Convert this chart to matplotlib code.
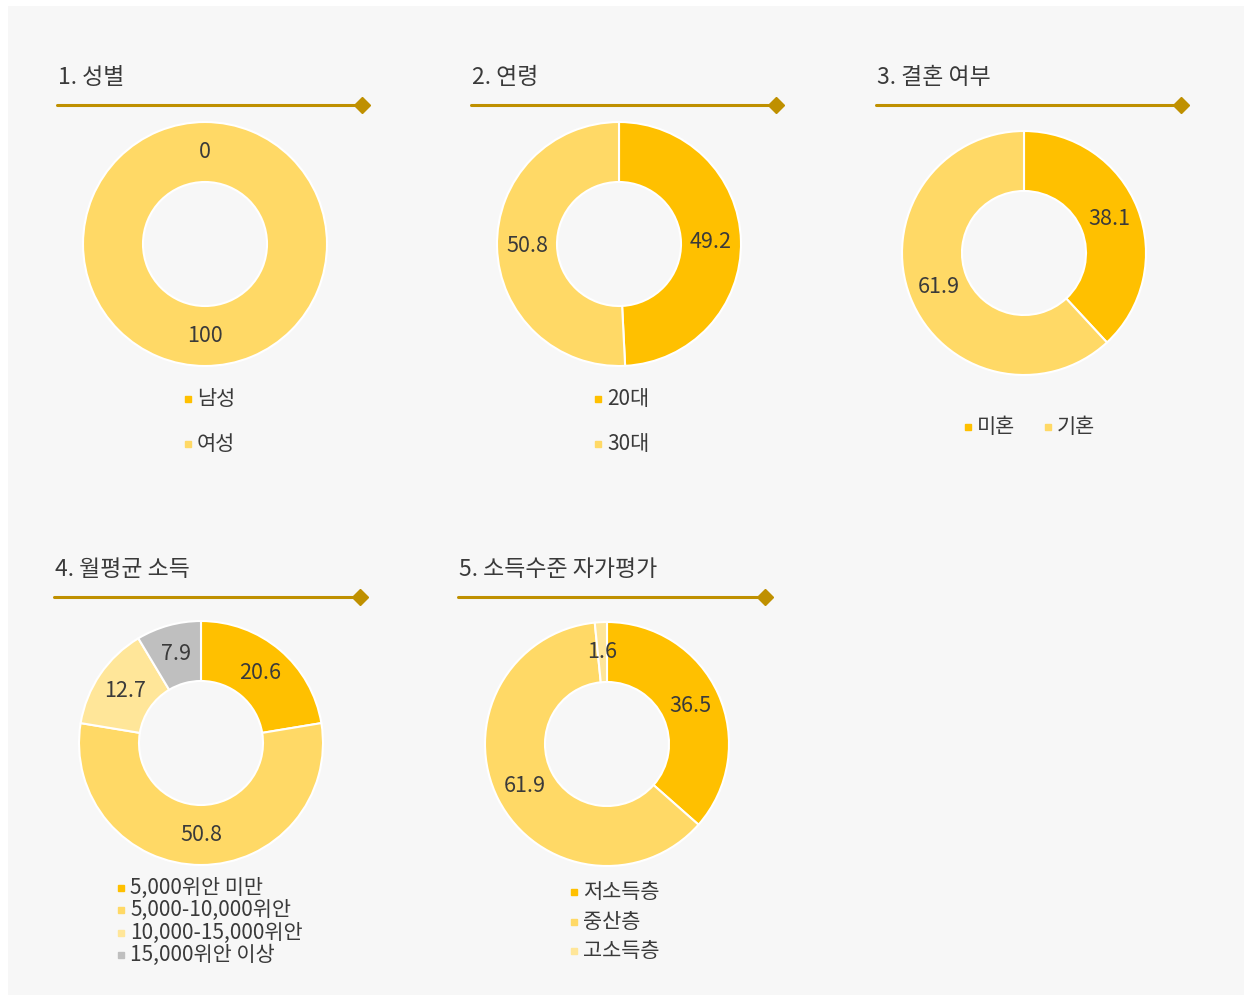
import matplotlib.pyplot as plt
from matplotlib.patches import Rectangle
import numpy as np

plt.rcParams['font.family'] = ['Noto Sans CJK KR', 'DejaVu Sans']

W, H = 1248, 1001

# --- data ---
titles = ['1. 성별', '2. 연령', '3. 결혼 여부', '4. 월평균 소득', '5. 소득수준 자가평가']

sex_labels = ['남성', '여성']
sex_values = [0, 100]

age_labels = ['20대', '30대']
age_values = [49.2, 50.8]

marry_labels = ['미혼', '기혼']
marry_values = [38.1, 61.9]

income_labels = ['5,000위안 미만', '5,000-10,000위안', '10,000-15,000위안', '15,000위안 이상']
income_values = [20.6, 50.8, 12.7, 7.9]

level_labels = ['저소득층', '중산층', '고소득층']
level_values = [36.5, 61.9, 1.6]

gold = '#FFC000'
gold2 = '#FFD966'
gold3 = '#FFE699'
grey = '#BFBFBF'
line_col = '#BF9000'
txt_col = '#3A3A3A'

sex_colors = [gold, gold2]
age_colors = [gold, gold2]
marry_colors = [gold, gold2]
income_colors = [gold, gold2, gold3, grey]
level_colors = [gold, gold2, gold3]

fig = plt.figure(figsize=(W / 100, H / 100), dpi=100)
fig.patch.set_facecolor('white')
ax = fig.add_axes([0, 0, 1, 1])
ax.set_xlim(0, W)
ax.set_ylim(0, H)
ax.set_aspect('equal')
ax.axis('off')

ax.add_patch(Rectangle((8, 6), W - 12, H - 12, facecolor='#F7F7F7', edgecolor='none', zorder=0))


def Y(y):
    return H - y


def header(title, x0, x1, ty, ly):
    ax.text(x0 + 1, Y(ty), title, fontsize=16.5, fontweight='medium', color=txt_col,
            ha='left', va='center')
    ax.plot([x0, x1], [Y(ly), Y(ly)], color=line_col, lw=2.2, solid_capstyle='round', zorder=2)
    ax.plot([x1], [Y(ly)], marker='D', ms=8, color=line_col, mec=line_col, zorder=3)


def donut(values, colors, cx, cy, r=122, w=60):
    wedges, _ = ax.pie(values, colors=colors, startangle=90, counterclock=False,
                       center=(cx, Y(cy)), radius=r, frame=True,
                       wedgeprops=dict(width=w, edgecolor='white', linewidth=1.5))
    rm = r - w / 2
    for wd, v in zip(wedges, values):
        a = np.deg2rad((wd.theta1 + wd.theta2) / 2)
        ax.text(cx + rm * np.cos(a), Y(cy) + rm * np.sin(a), f'{v:g}',
                fontsize=15.5, color=txt_col, ha='center', va='center', zorder=5)


def legend_v(labels, colors, x, ys):
    for lab, c, y in zip(labels, colors, ys):
        ax.plot([x], [Y(y)], marker='s', ms=5, color=c, mec=c, zorder=4)
        ax.text(x + 9, Y(y), lab, fontsize=15, color=txt_col, ha='left', va='center')


# 1. sex
header(titles[0], 57, 362, 78, 105)
donut(sex_values, sex_colors, 205, 244)
legend_v(sex_labels, sex_colors, 188, [399, 444])

# 2. age
header(titles[1], 471, 776, 78, 105)
donut(age_values, age_colors, 619, 244)
legend_v(age_labels, age_colors, 598, [399, 444])

# 3. marriage
header(titles[2], 876, 1181, 78, 105)
donut(marry_values, marry_colors, 1024, 253)
for lab, c, x in zip(marry_labels, marry_colors, [968, 1048]):
    ax.plot([x], [Y(427)], marker='s', ms=5, color=c, mec=c, zorder=4)
    ax.text(x + 9, Y(427), lab, fontsize=15, color=txt_col, ha='left', va='center')

# 4. income
header(titles[3], 54, 360, 570, 597)
donut(income_values, income_colors, 201, 743)
legend_v(income_labels, income_colors, 121, [888, 910, 933, 955])

# 5. income level
header(titles[4], 458, 765, 570, 597)
donut(level_values, level_colors, 607, 744)
legend_v(level_labels, level_colors, 574, [892, 922, 951])

ax.set_xlim(0, W)
ax.set_ylim(0, H)
ax.axis('off')

fig.savefig('out.png', dpi=100, facecolor=fig.get_facecolor())
